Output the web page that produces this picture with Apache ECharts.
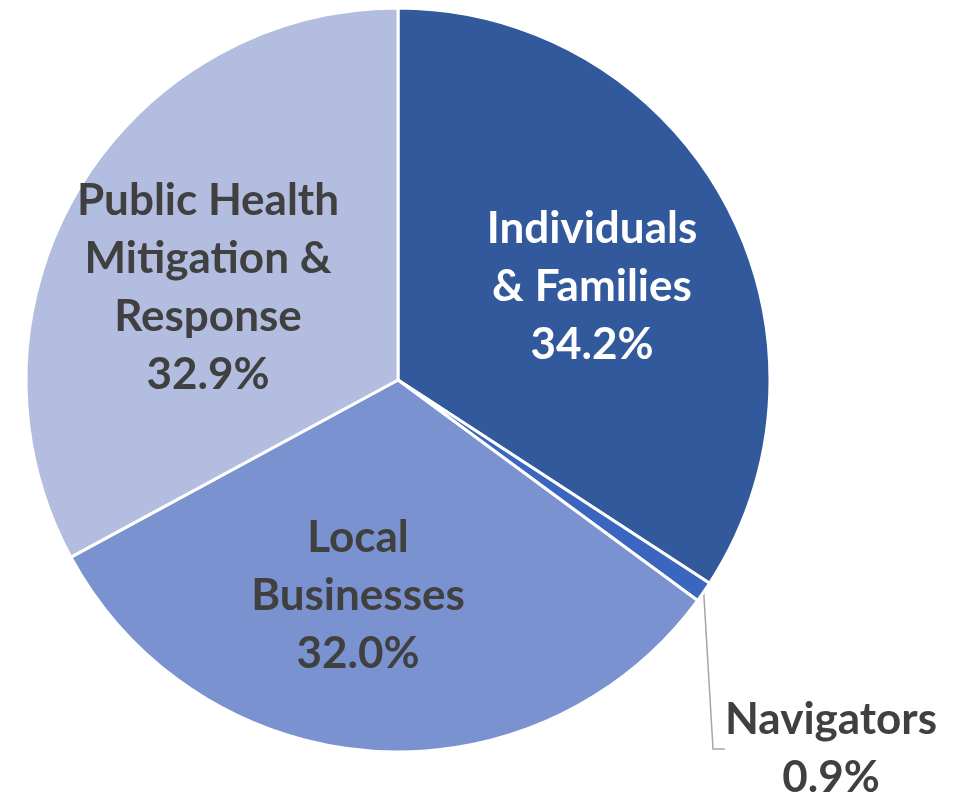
<!DOCTYPE html>
<html><head><meta charset="utf-8">
<script src="https://cdn.jsdelivr.net/npm/echarts@6/dist/echarts.min.js"></script>
<style>html,body{margin:0;padding:0;background:#fff}#c{width:964px;height:797px}</style>
</head><body><div id="c"></div>
<script>
var categories = ['Individuals\n& Families', 'Navigators', 'Local\nBusinesses', 'Public Health\nMitigation &\nResponse'];
var values = [34.2, 0.9, 32.0, 32.9];
var colors = ['#32599B', '#3A66BF', '#7A92D0', '#B2BDDF'];
var labelColors = ['#ffffff', '#404040', '#404040', '#404040'];
var labelPos = [[592, 287], [876.5, 749], [358, 596], [208, 288]];

var chart = echarts.init(document.getElementById('c'), null, {renderer: 'canvas'});
var data = categories.map(function (c, i) {
  var lbl = {color: labelColors[i], position: i === 1 ? 'outside' : 'inside'};
  if (i === 1) { lbl.padding = [0, 100, 52, 9]; lbl.overflow = 'none'; lbl.width = null; }
  return {
    name: c, value: values[i],
    itemStyle: {color: colors[i]},
    label: lbl,
    labelLine: {show: i === 1}
  };
});
chart.setOption({
  animation: false,
  series: [{
    type: 'pie',
    center: [398, 380],
    radius: [0, 372],
    startAngle: 90,
    clockwise: true,
    data: data,
    itemStyle: {borderColor: '#ffffff', borderWidth: 3},
    label: {
      show: true,
      fontFamily: 'Lato',
      fontWeight: 'bold',
      fontSize: 44,
      lineHeight: 58,
      align: 'center',
      overflow: 'none',
      formatter: function (p) { return p.name + '\n' + p.value.toFixed(1) + '%'; }
    },
    labelLine: {lineStyle: {color: '#A6A6A6', width: 1.5}, length: 20, length2: 12, minTurnAngle: 60},
    labelLayout: function (p) {
      var pos = labelPos[p.dataIndex];
      return {x: pos[0], y: pos[1], align: 'center', verticalAlign: 'middle'};
    }
  }]
});
</script></body></html>
